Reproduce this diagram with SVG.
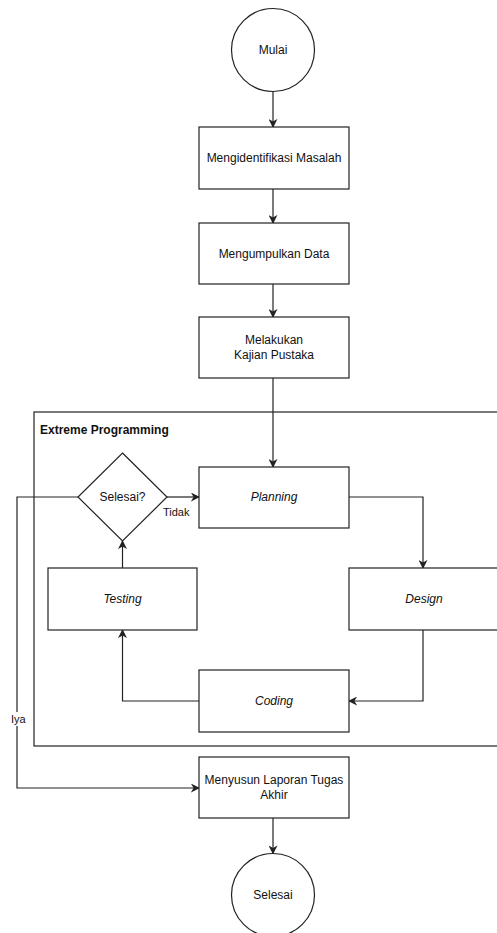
<svg xmlns="http://www.w3.org/2000/svg" width="497" height="933" viewBox="0 0 497 933">
  <style>
    .shape { fill: #ffffff; stroke: #222222; stroke-width: 1.2; }
    .edge { fill: none; stroke: #222222; stroke-width: 1.2; }
    .label { font-family: "Liberation Sans", Arial, sans-serif; font-size: 12px; fill: #111111; text-anchor: middle; dominant-baseline: central; }
    .it { font-style: italic; }
    .title { font-family: "Liberation Sans", Arial, sans-serif; font-size: 12px; font-weight: bold; fill: #111111; }
    .edge-label { font-family: "Liberation Sans", Arial, sans-serif; font-size: 11px; fill: #111111; dominant-baseline: central; }
  </style>
  <defs>
    <marker id="arrow" viewBox="0 0 10 10" refX="9" refY="5" markerWidth="9" markerHeight="9" markerUnits="userSpaceOnUse" orient="auto">
      <path d="M0,0 L10,5 L0,10 L3,5 Z" fill="#222222"/>
    </marker>
  </defs>
  <rect width="497" height="933" fill="#ffffff"/>

  <!-- Extreme Programming container -->
  <g id="xp-container">
    <rect class="shape" x="34" y="412" width="470" height="334"/>
    <text class="title" x="40" y="434">Extreme Programming</text>
  </g>

  <g id="connectors">
    <path class="edge" d="M273,92 L273,127" marker-end="url(#arrow)"/>
    <path class="edge" d="M273,189 L273,223" marker-end="url(#arrow)"/>
    <path class="edge" d="M273,284 L273,317" marker-end="url(#arrow)"/>
    <path class="edge" d="M273,378 L273,467" marker-end="url(#arrow)"/>
    <path class="edge" d="M349,497 L423,497 L423,568" marker-end="url(#arrow)"/>
    <path class="edge" d="M423,630 L423,701 L349,701" marker-end="url(#arrow)"/>
    <path class="edge" d="M199,701 L122.5,701 L122.5,630" marker-end="url(#arrow)"/>
    <path class="edge" d="M122.5,568 L122.5,541" marker-end="url(#arrow)"/>
    <path class="edge" d="M167,497 L199,497" marker-end="url(#arrow)"/>
    <path class="edge" d="M78,497 L17,497 L17,788 L199,788" marker-end="url(#arrow)"/>
    <path class="edge" d="M273,818 L273,853.5" marker-end="url(#arrow)"/>
    <text class="edge-label" x="163" y="512">Tidak</text>
    <rect x="10" y="712" width="16" height="14" fill="#ffffff"/>
    <text class="edge-label" x="11" y="719">Iya</text>
  </g>

  <g id="mulai">
    <circle class="shape" cx="273" cy="50" r="41.5"/>
    <text class="label" x="273" y="50">Mulai</text>
  </g>
  <g id="identifikasi">
    <rect class="shape" x="199" y="127" width="150" height="62"/>
    <text class="label" x="274" y="158">Mengidentifikasi Masalah</text>
  </g>
  <g id="pengumpulan">
    <rect class="shape" x="199" y="223" width="150" height="61"/>
    <text class="label" x="274" y="253.5">Mengumpulkan Data</text>
  </g>
  <g id="kajian">
    <rect class="shape" x="199" y="317" width="150" height="61"/>
    <text class="label" x="274" y="340">Melakukan</text>
    <text class="label" x="274" y="355">Kajian Pustaka</text>
  </g>
  <g id="selesai-decision">
    <polygon class="shape" points="122.5,453 167,497 122.5,541 78,497"/>
    <text class="label" x="122.5" y="497">Selesai?</text>
  </g>
  <g id="planning">
    <rect class="shape" x="199" y="467" width="150" height="61"/>
    <text class="label it" x="274" y="497">Planning</text>
  </g>
  <g id="design">
    <rect class="shape" x="349" y="568" width="150" height="62"/>
    <text class="label it" x="424" y="599">Design</text>
  </g>
  <g id="testing">
    <rect class="shape" x="48" y="568" width="149" height="62"/>
    <text class="label it" x="122.5" y="599">Testing</text>
  </g>
  <g id="coding">
    <rect class="shape" x="199" y="670" width="150" height="62"/>
    <text class="label it" x="274" y="701">Coding</text>
  </g>
  <g id="laporan">
    <rect class="shape" x="199" y="757" width="150" height="61"/>
    <text class="label" x="274" y="780">Menyusun Laporan Tugas</text>
    <text class="label" x="274" y="795">Akhir</text>
  </g>
  <g id="selesai">
    <circle class="shape" cx="273" cy="895" r="41.5"/>
    <text class="label" x="273" y="895">Selesai</text>
  </g>
</svg>
